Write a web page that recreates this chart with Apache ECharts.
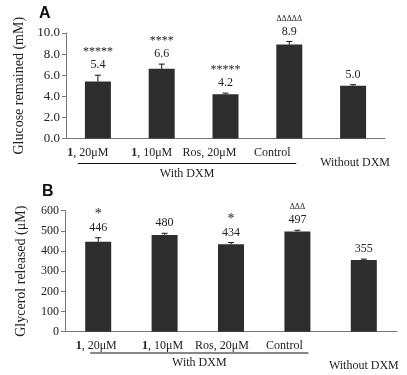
<!DOCTYPE html>
<html>
<head>
<meta charset="utf-8">
<script src="https://cdn.jsdelivr.net/npm/echarts@6/dist/echarts.min.js"></script>
<style>
  html, body { margin: 0; background: #fff; }
  #chart { width: 407px; height: 375px; }
</style>
</head>
<body>
<div id="chart"></div>
<script>
// groups along the x axis (same for both panels)
const groups = ['1, 20μM', '1, 10μM', 'Ros, 20μM', 'Control', 'Without DXM']

// panel A: glucose remained (mM)
const glucose = [5.4, 6.6, 4.2, 8.9, 5.0]
const glucoseErr = [0.6, 0.45, 0.1, 0.3, 0.1]
const glucoseSig = ['*****', '****', '*****', 'ΔΔΔΔΔ', '']

// panel B: glycerol released (μM)
const glycerol = [446, 480, 434, 497, 355]
const glycerolErr = [20, 8, 8, 6, 5]
const glycerolSig = ['*', '', '*', 'ΔΔΔ', '']

const serif = '"Liberation Serif", "Times New Roman", serif'
const ink = '#222'
const axisGray = '#777'
const barColor = '#2d2d2d'

// label nudges (px) so the names sit like in the figure
const shiftA = [-10, -10, -16, -17, 2]
const shiftB = [-2, -2, -9, -13, 0]

function catLabel(shift, drop) {
  const rich = {b: {fontWeight: 'bold', fontFamily: serif, fontSize: 12, color: ink}}
  shift.forEach((d, i) => {
    const last = i === shift.length - 1
    rich['p' + i] = {
      fontFamily: serif, fontSize: 12, color: ink,
      padding: [last ? drop : 0, d < 0 ? -2 * d : 0, 0, d > 0 ? 2 * d : 0],
    }
  })
  return {
    interval: 0,
    margin: 8,
    formatter: (v, i) => v.startsWith('1,')
      ? `{b|1}{p${i}|${v.slice(1)}}`
      : `{p${i}|${v}}`,
    rich,
  }
}

function errRender(sigs, fmt, sigSize) {
  return (params, api) => {
    const i = api.value(0)
    const v = api.value(1)
    const e = api.value(2)
    const base = api.coord([i, v])
    const top = api.coord([i, v + e])
    const x = top[0]
    const y = top[1]
    const line = {stroke: '#111', lineWidth: 1}
    return {
      type: 'group',
      children: [
        {type: 'line', shape: {x1: x, y1: base[1], x2: x, y2: y}, style: line},
        {type: 'line', shape: {x1: x - 3, y1: y, x2: x + 3, y2: y}, style: line},
        {type: 'text', x, y: y - 10, style: {
          text: fmt(v), align: 'center', verticalAlign: 'middle',
          font: `12px ${serif}`, fill: ink,
        }},
        {type: 'text', x, y: y - 23, style: {
          text: sigs[i], align: 'center', verticalAlign: 'middle',
          font: `${sigs[i].startsWith('*') ? sigSize : 8}px ${serif}`, fill: ink,
        }},
      ],
    }
  }
}

function yAxis(gridIndex, name, max, interval, gap, digits, tickSize) {
  return {
    type: 'value',
    gridIndex,
    min: 0,
    max,
    interval,
    name,
    nameLocation: 'middle',
    nameGap: gap,
    nameTextStyle: {fontFamily: serif, fontSize: 14, color: ink},
    axisLine: {show: true, lineStyle: {color: axisGray}},
    axisTick: {show: true, length: 4, lineStyle: {color: axisGray}},
    splitLine: {show: false},
    axisLabel: {
      fontFamily: serif, fontSize: tickSize, color: ink, margin: 6,
      formatter: v => v.toFixed(digits),
    },
  }
}

function xAxis(gridIndex, shift, drop) {
  return {
    type: 'category',
    gridIndex,
    data: groups,
    axisLine: {lineStyle: {color: axisGray}},
    axisTick: {show: false},
    axisLabel: catLabel(shift, drop),
  }
}

const chart = echarts.init(document.getElementById('chart'))

chart.setOption({
  backgroundColor: '#fff',
  animation: false,
  grid: [
    {left: 66, right: 22, top: 33, bottom: 236.5},
    {left: 65, right: 10, top: 210.7, bottom: 43.3},
  ],
  xAxis: [xAxis(0, shiftA, 10), xAxis(1, shiftB, 20)],
  yAxis: [
    yAxis(0, 'Glucose remained (mM)', 10, 2, 40, 1, 13),
    yAxis(1, 'Glycerol released (μM)', 600, 100, 37, 0, 12),
  ],
  series: [
    {
      type: 'bar', xAxisIndex: 0, yAxisIndex: 0, data: glucose,
      barWidth: 26, itemStyle: {color: barColor},
    },
    {
      type: 'custom', xAxisIndex: 0, yAxisIndex: 0, z: 3,
      data: glucose.map((v, i) => [i, v, glucoseErr[i]]),
      renderItem: errRender(glucoseSig, v => v.toFixed(1), 12),
    },
    {
      type: 'bar', xAxisIndex: 1, yAxisIndex: 1, data: glycerol,
      barWidth: 26, itemStyle: {color: barColor},
    },
    {
      type: 'custom', xAxisIndex: 1, yAxisIndex: 1, z: 3,
      data: glycerol.map((v, i) => [i, v, glycerolErr[i]]),
      renderItem: errRender(glycerolSig, v => String(Math.round(v)), 14),
    },
  ],
})

// "With DXM" brackets under the first four groups
function bracket(xi, y, from, to) {
  const x1 = chart.convertToPixel({xAxisIndex: xi}, 0) + from
  const x2 = chart.convertToPixel({xAxisIndex: xi}, 3) + to
  return [
    {type: 'line', shape: {x1, y1: y, x2, y2: y}, style: {stroke: '#111', lineWidth: 1}},
    {type: 'text', x: (x1 + x2) / 2, y: y + 10, style: {
      text: 'With DXM', align: 'center', verticalAlign: 'middle',
      font: `12px ${serif}`, fill: ink,
    }},
  ]
}

chart.setOption({
  graphic: [
    {type: 'text', left: 39, top: 6, style: {
      text: 'A', font: 'bold 16px "Liberation Sans", Arial, sans-serif', fill: '#111',
    }},
    {type: 'text', left: 42, top: 184, style: {
      text: 'B', font: 'bold 16px "Liberation Sans", Arial, sans-serif', fill: '#111',
    }},
    ...bracket(0, 163.5, -20, 7),
    ...bracket(1, 353, -8, 11),
  ],
})
</script>
</body>
</html>
